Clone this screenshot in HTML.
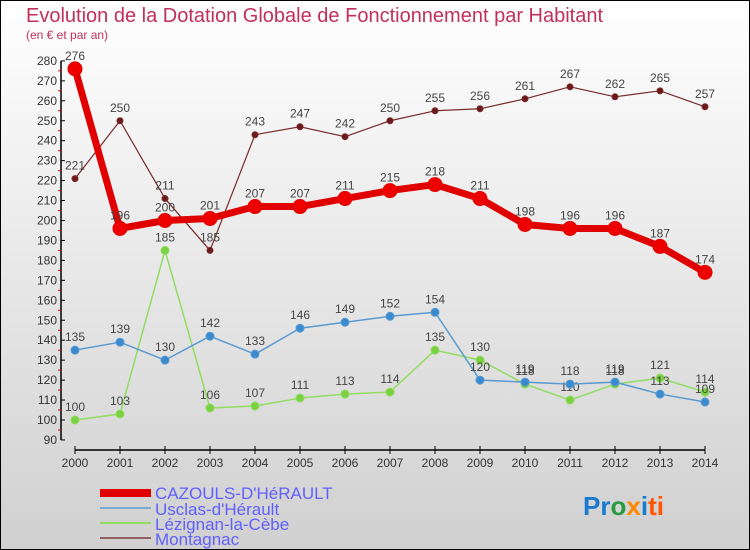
<!DOCTYPE html>
<html><head><meta charset="utf-8"><style>
body{margin:0}
#c{width:750px;height:550px;position:relative;overflow:hidden;font-family:"Liberation Sans",sans-serif}
</style></head><body>
<div id="c">
<svg id="s" width="750" height="550" xmlns="http://www.w3.org/2000/svg">
<defs><linearGradient id="bg" x1="0" y1="0" x2="0" y2="1"><stop offset="0" stop-color="#ffffff"/><stop offset="1" stop-color="#d0d0d0"/></linearGradient></defs>
<rect x="0.5" y="0.5" width="749" height="549" fill="url(#bg)" stroke="#000"/>
<text x="26" y="22" font-size="20" fill="#c0305a">Evolution de la Dotation Globale de Fonctionnement par Habitant</text>
<text x="26" y="39" font-size="12" fill="#c0305a">(en € et par an)</text>
<g id="axes"></g><g id="series"></g>
<g>
<rect x="100" y="489" width="51" height="8" fill="#e00000"/>
<text x="155" y="499" font-size="17" fill="#6060ff">CAZOULS-D'HéRAULT</text>
<rect x="100" y="507" width="51" height="2" fill="#7aaad0"/>
<text x="155" y="515" font-size="17" fill="#6060ff">Usclas-d'Hérault</text>
<rect x="100" y="522" width="51" height="2" fill="#90dd60"/>
<text x="155" y="530" font-size="17" fill="#6060ff">Lézignan-la-Cèbe</text>
<rect x="100" y="537" width="51" height="2" fill="#906060"/>
<text x="155" y="545" font-size="17" fill="#6060ff">Montagnac</text>
</g>
<text x="583" y="515" font-size="26" font-weight="bold"><tspan fill="#1a7ad0">Pr</tspan><tspan fill="#2a9a40">o</tspan><tspan fill="#ff8800">x</tspan><tspan fill="#1a7ad0">i</tspan><tspan fill="#ff5500">ti</tspan></text>
</svg>
</div>
<script>
const years=[2000,2001,2002,2003,2004,2005,2006,2007,2008,2009,2010,2011,2012,2013,2014];
const yTicks=[90,100,110,120,130,140,150,160,170,180,190,200,210,220,230,240,250,260,270,280];
const cazouls=[276,196,200,201,207,207,211,215,218,211,198,196,196,187,174];
const usclas=[135,139,130,142,133,146,149,152,154,120,119,118,119,113,109];
const lezignan=[100,103,185,106,107,111,113,114,135,130,118,110,118,121,114];
const montagnac=[221,250,211,185,243,247,242,250,255,256,261,267,262,265,257];
const NS="http://www.w3.org/2000/svg";
function X(i){return 75+i*45;}
function Y(v){return 420-(v-100)*1.995;}
function mk(t,a,p){const e=document.createElementNS(NS,t);for(const k in a)e.setAttribute(k,a[k]);p.appendChild(e);return e;}
const ax=document.getElementById('axes');
const yl=mk('line',{x1:61,y1:Y(280),x2:61,y2:Y(90),stroke:'#000','stroke-width':1.5},ax);


yTicks.forEach(v=>{
 mk('line',{x1:61,y1:Y(v),x2:65,y2:Y(v),stroke:'#000'},ax);
 if(v<280)mk('line',{x1:58,y1:Y(v+5),x2:61,y2:Y(v+5),stroke:'#e00000'},ax);
 const t=mk('text',{x:57,y:Y(v)+4,'font-size':12,fill:'#333','text-anchor':'end'},ax);t.textContent=v;
 
 
});
const xl=mk('line',{x1:X(0),y1:450,x2:X(14),y2:450,stroke:'#000','stroke-width':1.5},ax);


years.forEach((yr,i)=>{
 mk('line',{x1:X(i),y1:446,x2:X(i),y2:454,stroke:'#000'},ax);
 const t=mk('text',{x:X(i),y:467,'font-size':12,fill:'#333','text-anchor':'middle'},ax);t.textContent=yr;
 
 
});
const sg=document.getElementById('series');
function draw(vals,color,w,r,name,dot){
 const g=mk('g',{},sg);
 
 
 const pl=mk('polyline',{points:vals.map((v,i)=>X(i)+','+Y(v)).join(' '),fill:'none',stroke:color,'stroke-width':w,'stroke-linejoin':'round'},g);
 
 
 vals.forEach((v,i)=>{
  const c=mk('circle',{cx:X(i),cy:Y(v),r:r,fill:dot,stroke:color,'stroke-width':1},g);
  
  
  const t=mk('text',{x:X(i),y:Y(v)-9,'font-size':12,fill:'#444','text-anchor':'middle'},g);t.textContent=v;
  
  
 });
}
draw(montagnac,'#7a2a2a',1.2,3,'montagnac','#6a1a1a');
draw(lezignan,'#90dd60',1.5,4,'lezignan','#7ad040');
draw(usclas,'#5a9ad0',1.5,4,'usclas','#3a8ad0');
draw(cazouls,'#e00000',7,7,'cazouls','#ee0000');
</script>
</body></html>
